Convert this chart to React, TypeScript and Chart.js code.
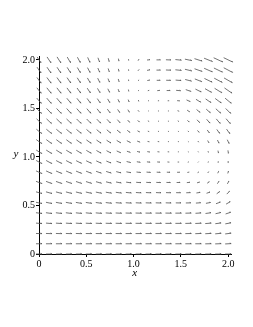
import React, { useEffect, useRef } from 'react';
import { Chart, registerables } from 'chart.js';

Chart.register(...registerables);

// grid of the direction field (20 x 20 points on [0,2] x [0,2])
const xValues = [0, 0.1053, 0.2105, 0.3158, 0.4211, 0.5263, 0.6316, 0.7368, 0.8421, 0.9474, 1.0526, 1.1579, 1.2632, 1.3684, 1.4737, 1.5789, 1.6842, 1.7895, 1.8947, 2.0];
const yValues = [0, 0.1053, 0.2105, 0.3158, 0.4211, 0.5263, 0.6316, 0.7368, 0.8421, 0.9474, 1.0526, 1.1579, 1.2632, 1.3684, 1.4737, 1.5789, 1.6842, 1.7895, 1.8947, 2.0];

const tickValues = [0, 0.5, 1, 1.5, 2];
const xTickLabels = ['0', '0.5', '1.0', '1.5', '2.0'];
const yTickLabels = ['0', '0.5', '1.0', '1.5', '2.0'];
const xTitle = 'x';
const yTitle = 'y';

// arrow direction (degrees, counter-clockwise from +x), one row per y value (bottom to top)
const arrowAngles: number[][] = [
  [0, 0, 0, 0, 0, 0, 0, 0, 0, 0, 0, 0, 0, 0, 0, 0, 0, 0, 0, 0],
  [0, 0, 0, 0, 0, 0, 0, 0, 0, 0, 0, 0, 0, 0, 0, 0, 0, 1, 2, 3],
  [-2, -2, -2, -2, -2, -1, -1, -1, -1, 0, 0, 0, 0, 0, 0, 1, 2, 3, 5, 7],
  [-5, -5, -4, -4, -4, -3, -3, -2, -2, -1, -1, -1, 0, 0, 0, 1, 2, 4, 7, 10],
  [-8, -8, -7, -7, -6, -6, -5, -4, -3, -2, -2, -1, -1, -1, 0, 1, 3, 7, 12, 18],
  [-12, -12, -11, -11, -10, -9, -8, -7, -5, -4, -3, -2, -2, -2, -1, 1, 4, 10, 20, 30],
  [-16, -16, -15, -15, -14, -13, -12, -10, -8, -6, -4, -3, -3, -2, -1, 2, 8, 18, 35, 45],
  [-21, -21, -20, -20, -19, -18, -16, -14, -11, -8, -5, -4, -3, -2, 0, 5, 15, 35, 55, 60],
  [-25, -25, -24, -24, -23, -22, -20, -18, -15, -11, -7, -5, -4, -3, 0, 10, 30, 55, 65, 70],
  [-29, -29, -28, -28, -27, -26, -25, -23, -20, -15, -10, -7, -5, -5, 0, 20, 50, 75, 85, 90],
  [-33, -33, -33, -32, -32, -31, -30, -28, -25, -20, -15, -10, -6, -5, 0, -30, -60, -75, -80, -82],
  [-37, -37, -37, -37, -36, -36, -35, -34, -32, -28, -22, -12, -8, -5, -10, -40, -55, -62, -65, -65],
  [-40, -40, -40, -40, -40, -41, -41, -41, -40, -38, -30, -18, -10, -20, -30, -45, -50, -55, -55, -55],
  [-44, -44, -44, -44, -45, -46, -47, -48, -50, -50, -45, -30, -20, -10, -35, -45, -48, -50, -50, -50],
  [-47, -47, -47, -48, -49, -50, -52, -54, -57, -60, -50, -40, -10, 0, -20, -35, -40, -42, -43, -45],
  [-50, -50, -50, -51, -52, -54, -56, -60, -65, -70, -75, 20, 5, 0, -5, -25, -32, -35, -37, -40],
  [-52, -52, -53, -54, -55, -57, -60, -64, -70, -80, 40, 15, 5, 0, -5, -20, -27, -30, -32, -35],
  [-54, -54, -55, -56, -58, -60, -64, -68, -74, -85, 45, 10, 0, -2, -5, -15, -22, -26, -28, -30],
  [-56, -56, -57, -58, -60, -63, -67, -72, -78, -85, 50, 10, 0, -3, -6, -14, -20, -24, -26, -28],
  [-57, -57, -58, -60, -62, -66, -70, -75, -80, -85, 60, 5, 0, -3, -6, -12, -18, -22, -25, -26],
];

// arrow magnitude (relative), one row per y value (bottom to top)
const arrowLengths: number[][] = [
  [6, 6, 6, 6, 6, 6, 6, 6, 6, 6, 6, 6, 6, 6, 6, 6, 6, 6, 6, 6],
  [6, 6, 6, 6, 6, 6, 6, 6, 6, 6, 6, 6, 6, 6, 6, 6, 6, 6, 6, 6],
  [6, 6, 6, 6, 6, 6, 6, 6, 6, 6, 6, 6, 6, 6, 6, 6, 6, 6, 6, 6],
  [6, 6, 6, 6, 6, 6, 6, 6, 6, 6, 6, 6, 6, 6, 6, 6, 6, 6, 5.8, 5.8],
  [6.1, 6.1, 6.1, 6.1, 6, 6, 6, 6, 6, 6, 6, 6, 6, 6, 6, 5.8, 5.6, 5.5, 5.4, 5.4],
  [6.1, 6.1, 6.1, 6.1, 6, 6, 6, 5.9, 5.8, 5.7, 5.6, 5.6, 5.5, 5.4, 5.2, 5, 4.8, 4.7, 4.7, 4.8],
  [6.2, 6.2, 6.1, 6.1, 6, 6, 5.9, 5.8, 5.7, 5.5, 5.3, 5.2, 5, 4.8, 4.5, 4.2, 3.8, 3.6, 3.7, 4],
  [6.3, 6.2, 6.2, 6.1, 6, 5.9, 5.7, 5.5, 5.3, 5, 4.8, 4.6, 4.4, 4, 3.5, 3, 2.6, 2.6, 3, 3.2],
  [6.4, 6.3, 6.2, 6.1, 6, 5.8, 5.6, 5.3, 5, 4.5, 4.2, 4, 3.6, 3.2, 2.6, 2, 1.6, 1.8, 2.2, 2.5],
  [6.5, 6.4, 6.3, 6.2, 6, 5.8, 5.5, 5.1, 4.6, 4.1, 3.5, 3.2, 2.6, 2, 1.5, 1.2, 1, 1.2, 1.6, 2],
  [6.6, 6.5, 6.4, 6.2, 6, 5.7, 5.3, 4.9, 4.3, 3.6, 3, 2.5, 2, 1.5, 1, 1, 1, 1.5, 2.5, 3],
  [6.7, 6.6, 6.5, 6.3, 6.1, 5.9, 5.5, 5.1, 4.6, 4, 3, 2, 1.5, 1, 1, 1, 1.5, 2.5, 3.5, 4.2],
  [6.8, 6.8, 6.7, 6.5, 6.2, 6, 5.5, 5, 4.3, 3.5, 2.5, 1.5, 1, 1, 1, 1.5, 2.5, 3.5, 4.8, 5.5],
  [6.8, 6.8, 6.7, 6.5, 6.3, 6, 5.5, 5, 4, 3, 2.5, 1.5, 1, 1, 1.5, 2.5, 3.8, 5, 6, 6.5],
  [7, 7, 6.8, 6.6, 6.3, 6, 5.4, 4.6, 3.7, 3, 2, 1, 1, 1, 1.8, 3, 4.5, 5.5, 6.5, 7],
  [7, 7, 6.8, 6.5, 6.2, 5.8, 5.2, 4.3, 3.3, 2.5, 1.5, 1, 1.2, 1.5, 2.5, 4, 5.5, 6.5, 7.5, 8],
  [7, 7, 6.8, 6.5, 6.2, 5.7, 5, 4, 3, 2, 1.2, 1.5, 2.5, 3.5, 4.5, 5.5, 6.5, 7.5, 8.5, 9],
  [7, 7, 6.8, 6.5, 6, 5.5, 4.8, 3.8, 2.8, 1.5, 1.5, 2.5, 3.5, 4.5, 5.5, 6.5, 7.5, 8.5, 9, 9.5],
  [7, 7, 6.8, 6.5, 6, 5.5, 4.5, 3.5, 2.5, 1.5, 2, 3, 4, 5, 6, 7, 8, 9, 9.5, 10],
  [7, 7, 7, 6.5, 6, 5.5, 4.5, 3.5, 2.5, 1.5, 2, 3, 4, 5, 6, 7, 8, 9, 10, 10],
];

const FONT = '"Liberation Serif", "Times New Roman", serif';

const arrowPlugin = {
  id: 'fieldArrows',
  afterDatasetsDraw(chart: any) {
    const meta = chart.getDatasetMeta(0);
    const data = chart.data.datasets[0].data as any[];
    const ctx = chart.ctx as CanvasRenderingContext2D;
    ctx.save();
    ctx.strokeStyle = '#505050';
    ctx.lineWidth = 0.8;
    meta.data.forEach((el: any, k: number) => {
      const raw = data[k];
      const a = (raw.a * Math.PI) / 180;
      const m = raw.m;
      const ux = Math.cos(a);
      const uy = -Math.sin(a);
      const x0 = el.x - (ux * m) / 2;
      const y0 = el.y - (uy * m) / 2;
      const x1 = el.x + (ux * m) / 2;
      const y1 = el.y + (uy * m) / 2;
      ctx.beginPath();
      ctx.moveTo(x0, y0);
      ctx.lineTo(x1, y1);
      if (m > 2) {
        const h = Math.min(1.5, m * 0.25);
        const t = (25 * Math.PI) / 180;
        // one small barb on the lower/right side
        const rx = Math.cos(t) * -ux - Math.sin(t) * -uy;
        const ry = Math.sin(t) * -ux + Math.cos(t) * -uy;
        ctx.moveTo(x1, y1);
        ctx.lineTo(x1 + rx * h, y1 + ry * h);
      }
      ctx.stroke();
    });
    ctx.restore();
  },
};

const titlePlugin = {
  id: 'axisTitles',
  afterDraw(chart: any) {
    const ctx = chart.ctx as CanvasRenderingContext2D;
    const xs = chart.scales.x;
    const ys = chart.scales.y;
    ctx.save();
    ctx.fillStyle = '#000';
    ctx.font = `italic 11px ${FONT}`;
    ctx.textAlign = 'center';
    ctx.textBaseline = 'middle';
    ctx.fillText(yTitle, 16, ys.getPixelForValue(1) - 3);
    ctx.fillText(xTitle, xs.getPixelForValue(1) + 1, 273);
    ctx.restore();
  },
};

export default function App() {
  const ref = useRef<HTMLCanvasElement | null>(null);

  useEffect(() => {
    if (!ref.current) return;
    const points: any[] = [];
    yValues.forEach((y, j) => {
      xValues.forEach((x, i) => {
        points.push({ x, y, a: arrowAngles[j][i], m: arrowLengths[j][i] });
      });
    });

    const tickFont = { family: FONT, size: 10 };

    const chart = new Chart(ref.current, {
      type: 'scatter',
      data: {
        datasets: [
          {
            data: points,
            pointRadius: 0,
            pointHoverRadius: 0,
            showLine: false,
          },
        ],
      },
      options: {
        animation: false,
        responsive: false,
        events: [],
        layout: { padding: { left: 8, right: 22, top: 56, bottom: 43 } },
        plugins: { legend: { display: false }, tooltip: { enabled: false } },
        scales: {
          x: {
            type: 'linear',
            min: 0,
            max: 2.03,
            afterFit: (s: any) => {
              s.height = 30;
            },
            afterBuildTicks: (s: any) => {
              s.ticks = tickValues.map((v) => ({ value: v }));
            },
            ticks: {
              includeBounds: false,
              autoSkip: false,
              maxRotation: 0,
              padding: 1,
              color: '#000',
              font: tickFont,
              callback: (_v: any, idx: number) => xTickLabels[idx],
            },
            grid: { display: true, drawOnChartArea: false, drawTicks: true, tickLength: 3, color: '#000', lineWidth: 1 },
            border: { display: true, color: '#000', width: 1 },
          },
          y: {
            type: 'linear',
            min: 0,
            max: 2.04,
            afterFit: (s: any) => {
              s.width = 31;
            },
            afterBuildTicks: (s: any) => {
              s.ticks = tickValues.map((v) => ({ value: v }));
            },
            ticks: {
              includeBounds: false,
              autoSkip: false,
              padding: 1,
              color: '#000',
              font: tickFont,
              callback: (_v: any, idx: number) => yTickLabels[idx],
            },
            grid: { display: true, drawOnChartArea: false, drawTicks: true, tickLength: 3, color: '#000', lineWidth: 1 },
            border: { display: true, color: '#000', width: 1 },
          },
        },
      },
      plugins: [arrowPlugin, titlePlugin],
    });
    return () => chart.destroy();
  }, []);

  return (
    <div style={{ position: 'absolute', left: 0, top: 0, width: 253, height: 327, background: '#fff' }}>
      <canvas ref={ref} width={253} height={327} style={{ width: 253, height: 327, display: 'block' }} />
    </div>
  );
}
